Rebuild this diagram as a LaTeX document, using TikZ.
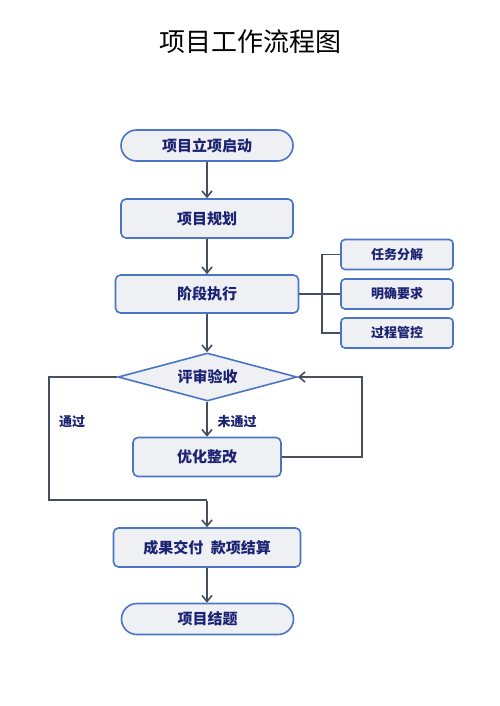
\documentclass[tikz,border=0pt]{standalone}
\usepackage{fontspec}
\newfontfamily\cjk{Noto Sans CJK SC}
\usetikzlibrary{arrows.meta,shapes.geometric}
\definecolor{bord}{HTML}{4A74C4}
\definecolor{fillc}{HTML}{EEF0F4}
\definecolor{txt}{HTML}{1C2372}
\definecolor{lnc}{HTML}{454F5D}
\tikzset{
  box/.style={draw=bord,fill=fillc,line width=1.6pt,rounded corners=5pt,minimum height=39pt,text=txt,font=\cjk\bfseries\fontsize{15}{15}\selectfont,inner sep=0pt},
  term/.style={draw=bord,fill=fillc,line width=1.6pt,rounded corners=15.5pt,minimum height=31pt,minimum width=172pt,text=txt,font=\cjk\bfseries\fontsize{15}{15}\selectfont,inner sep=0pt},
  sidebox/.style={draw=bord,fill=fillc,line width=1.6pt,rounded corners=4pt,minimum height=30pt,minimum width=112pt,text=txt,font=\cjk\bfseries\fontsize{13}{13}\selectfont,inner sep=0pt},
  dia/.style={draw=bord,fill=fillc,line width=1.6pt,diamond,aspect=3.7,minimum width=179pt,minimum height=48pt,text=txt,font=\cjk\bfseries\fontsize{15}{15}\selectfont,inner sep=0pt},
  lbl/.style={text=txt,font=\cjk\bfseries\fontsize{13}{13}\selectfont,inner sep=0pt},
  conn/.style={draw=lnc,line width=1.8pt},
  arr/.style={conn,-{Straight Barb[length=6pt,width=10pt,line width=1.6pt]}},
}
\begin{document}
\begin{tikzpicture}[x=1pt,y=-1pt]
\useasboundingbox[fill=white] (0,0) rectangle (500,706);
\node[font=\cjk\fontsize{26}{26}\selectfont,text=black] (title) at (250,42) {项目工作流程图};
\node[term] (start) at (207,145.5) {项目立项启动};
\node[box,minimum width=172pt] (plan) at (207,218.5) {项目规划};
\node[box,minimum width=183pt,minimum height=38pt] (exec) at (207,294) {阶段执行};
\node[sidebox] (s1) at (397,254.5) {任务分解};
\node[sidebox] (s2) at (397,294) {明确要求};
\node[sidebox] (s3) at (397,333) {过程管控};
\node[dia] (rev) at (207.5,377) {评审验收};
\node[box,minimum width=148pt] (fix) at (207,457) {优化整改};
\node[box,minimum width=187pt] (deliv) at (207,547.5) {成果交付\hspace{0.5em}款项结算};
\node[term] (end) at (207.5,619) {项目结题};
\coordinate (br) at (322,294);
\coordinate (lp) at (49,500);
\coordinate (rp) at (362,457);
\coordinate (jn) at (207,500);
\draw[arr] (start) -- (plan);
\draw[arr] (plan) -- (exec);
\draw[conn] (exec.east) -- (s2.west);
\draw[conn] (s1.west) -| (br) |- (s3.west);
\draw[arr] (exec.south) -- (exec.south |- rev.north);
\draw[arr] (rev.south -| fix.north) -- (fix.north);
\draw[arr] (fix.east) -- (rp) |- (rev.east);
\draw[conn] (rev.west) -| (lp) -- (jn);
\draw[arr] ([yshift=-0.9pt]jn) -- (deliv.north);
\draw[arr] (deliv.south) -- (deliv.south |- end.north);
\node[lbl] (l1) at (237,422) {未通过};
\node[lbl] (l2) at (72,422) {通过};
\end{tikzpicture}
\end{document}
